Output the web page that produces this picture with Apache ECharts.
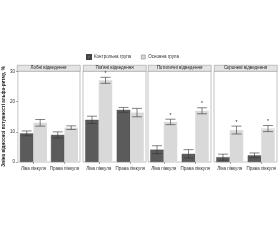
<!DOCTYPE html>
<html>
<head>
<meta charset="utf-8">
<script src="https://cdn.jsdelivr.net/npm/echarts@6/dist/echarts.min.js"></script>
<style>
  html, body { margin: 0; padding: 0; background: #fff; }
  #chart { width: 280px; height: 240px; }
</style>
</head>
<body>
<div id="chart"></div>
<script>
// дані з рисунку (середнє та похибка), по панелях: [ліва, права]
var panels = ['Лобні відведення', "Тім'яні відведення", 'Потиличні відведення', 'Скроневі відведення'];
var hemispheres = ['Ліва півкуля', 'Права півкуля'];
var groups = ['Контрольна група', 'Основна група'];
var yTicks = [0, 10, 20, 30];

var controlMean = [[9.5, 9.0], [14.0, 17.3], [4.1, 2.7], [1.6, 2.2]];
var controlErr  = [[0.8, 1.0], [1.2, 0.8], [1.3, 1.4], [1.0, 0.8]];
var mainMean    = [[13.0, 11.4], [27.1, 16.4], [13.3, 17.0], [10.6, 11.1]];
var mainErr     = [[1.1, 0.6], [1.0, 1.4], [0.9, 1.0], [1.3, 1.0]];
var mainSig     = [[0, 0], [1, 0], [1, 1], [1, 1]];

var chart = echarts.init(document.getElementById('chart'));

var font = 'Liberation Sans, Arial, sans-serif';
var panelLeft = [17, 83, 148, 214];
var panelW = 63;
var gridTop = 71;
var gridH = 91;
var barW = 13.5;
var colors = ['#5b5b5b', '#d9d9d9'];

var grids = [], xAxes = [], yAxes = [], series = [], graphics = [];

for (var i = 0; i < panels.length; i++) {
    grids.push({
        left: panelLeft[i], top: gridTop, width: panelW, height: gridH,
        show: true, borderColor: '#9a9a9a', borderWidth: 0.6, backgroundColor: '#fff'
    });
    xAxes.push({
        type: 'category', gridIndex: i, data: hemispheres,
        axisLine: {show: false},
        axisTick: {show: true, alignWithLabel: true, length: 2, lineStyle: {color: '#555', width: 0.5}},
        axisLabel: {fontSize: 4.5, color: '#333', margin: 4, fontFamily: font, interval: 0}
    });
    yAxes.push({
        type: 'value', gridIndex: i, min: 0, max: 30.2, interval: 10,
        splitLine: {show: false},
        axisLine: {show: false},
        axisTick: {show: i === 0, length: 2, lineStyle: {color: '#555', width: 0.5}},
        axisLabel: {show: i === 0, fontSize: 4.5, color: '#333', margin: 3, fontFamily: font,
            showMaxLabel: false,
            formatter: function (v) { return yTicks.indexOf(v) >= 0 ? v : ''; }},
        name: i === 0 ? 'Зміна відносної потужності альфа-ритму, %' : '',
        nameLocation: 'middle', nameGap: 9,
        nameTextStyle: {fontSize: 4.6, color: '#222', fontFamily: font, fontWeight: 'bold'}
    });

    series.push({
        name: groups[0], type: 'bar', xAxisIndex: i, yAxisIndex: i,
        data: controlMean[i], barWidth: barW, barGap: '0%',
        itemStyle: {color: colors[0], borderColor: '#444', borderWidth: 0.4},
        silent: true
    });
    series.push({
        name: groups[1], type: 'bar', xAxisIndex: i, yAxisIndex: i,
        data: mainMean[i], barWidth: barW, barGap: '0%',
        itemStyle: {color: colors[1]},
        silent: true
    });

    var errData = [];
    for (var j = 0; j < hemispheres.length; j++) {
        errData.push([j, controlMean[i][j], controlErr[i][j], 0, 0]);
        errData.push([j, mainMean[i][j], mainErr[i][j], 1, mainSig[i][j]]);
    }
    series.push({
        type: 'custom', xAxisIndex: i, yAxisIndex: i, data: errData, silent: true, z: 5,
        renderItem: function (params, api) {
            var x = api.value(0), m = api.value(1), e = api.value(2);
            var g = api.value(3), s = api.value(4);
            var off = (g === 0 ? -1 : 1) * barW / 2;
            var top = api.coord([x, m + e]);
            var bot = api.coord([x, m - e]);
            var cx = top[0] + off;
            var cap = 5;
            var st = {stroke: '#333', lineWidth: 0.6};
            var kids = [
                {type: 'line', shape: {x1: cx, y1: top[1], x2: cx, y2: bot[1]}, style: st},
                {type: 'line', shape: {x1: cx - cap, y1: top[1], x2: cx + cap, y2: top[1]}, style: st},
                {type: 'line', shape: {x1: cx - cap, y1: bot[1], x2: cx + cap, y2: bot[1]}, style: st}
            ];
            if (s) {
                kids.push({type: 'text', x: cx, y: top[1] - 1.5,
                    style: {text: '*', fontSize: 5, fill: '#222', align: 'center', verticalAlign: 'bottom', fontFamily: font}});
            }
            return {type: 'group', children: kids};
        }
    });

    // заголовок панелі
    graphics.push({
        type: 'rect', left: panelLeft[i], top: 65,
        shape: {width: panelW, height: 6},
        style: {fill: '#e4e4e4', stroke: '#8a8a8a', lineWidth: 0.5}
    });
    graphics.push({
        type: 'text', x: panelLeft[i] + panelW / 2, y: 68,
        style: {text: panels[i], fontSize: 4.5, fill: '#222', align: 'center', verticalAlign: 'middle', fontFamily: font}
    });
}

var option = {
    animation: false,
    backgroundColor: '#fff',
    legend: {
        data: [
            {name: groups[0], itemStyle: {color: colors[0]}},
            {name: groups[1], itemStyle: {color: colors[1], borderColor: '#777', borderWidth: 0.5}}
        ],
        left: 84, top: 52, padding: 2,
        icon: 'rect', itemWidth: 4, itemHeight: 4, itemGap: 10,
        textStyle: {fontSize: 4.5, color: '#333', fontFamily: font, padding: [0, 0, 0, -2]}
    },
    grid: grids,
    xAxis: xAxes,
    yAxis: yAxes,
    series: series,
    graphic: graphics
};
chart.setOption(option);
</script>
</body>
</html>
